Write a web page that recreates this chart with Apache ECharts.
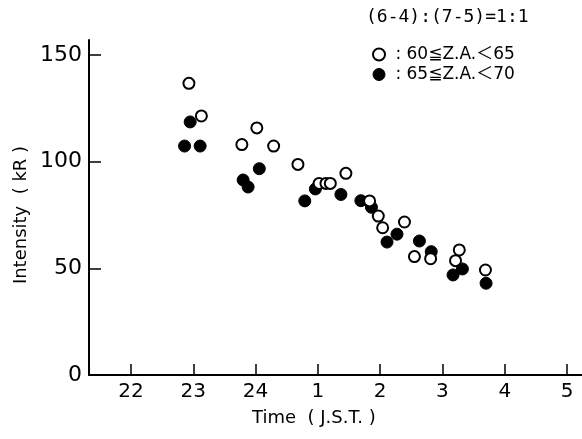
<!DOCTYPE html>
<html>
<head>
<meta charset="utf-8">
<script src="https://cdn.jsdelivr.net/npm/echarts@6/dist/echarts.min.js"></script>
<style>html,body{margin:0;padding:0;background:#fff}#c{width:582px;height:439px}</style>
</head>
<body>
<div id="c"></div>
<script>
// Time in hours (22..29 where 25 = 1 o'clock next day), intensity in kR
const openTime = [22.93, 23.13, 23.78, 24.02, 24.29, 24.68, 25.02, 25.13, 25.20, 25.45, 25.83, 25.97, 26.04, 26.39, 26.55, 26.81, 27.27, 27.21, 27.69];
const openIntensity = [136.7, 121.4, 108.0, 115.8, 107.3, 98.7, 89.8, 89.8, 89.8, 94.5, 81.6, 74.5, 69.0, 71.7, 55.5, 54.5, 58.6, 53.6, 49.2];
const filledTime = [22.95, 22.86, 23.11, 23.80, 23.88, 24.06, 24.79, 24.96, 25.37, 25.69, 25.86, 26.11, 26.27, 26.63, 26.82, 27.17, 27.32, 27.70];
const filledIntensity = [118.6, 107.3, 107.3, 91.4, 88.1, 96.7, 81.6, 87.2, 84.6, 81.7, 78.6, 62.3, 66.0, 62.8, 57.8, 46.9, 49.7, 43.0];
const xTicks = [22, 23, 24, 25, 26, 27, 28, 29];
const xTickLabels = ['22', '23', '24', '1', '2', '3', '4', '5'];
const yTicks = [0, 50, 100, 150];
const seriesNames = [' : 60≦Z.A.＜65', ' : 65≦Z.A.＜70'];
const ratioText = '(6-4):(7-5)=1:1';

const toPairs = (xs, ys) => xs.map((x, i) => [x, ys[i]]);
const mixFont = "'DejaVu Sans', 'Noto Sans CJK JP'";

const chart = echarts.init(document.getElementById('c'), null, {renderer: 'canvas'});
chart.setOption({
  backgroundColor: '#fff',
  animation: false,
  title: {
    text: ratioText,
    left: 366, top: 8, padding: 0,
    textStyle: {fontFamily: 'DejaVu Sans Mono', fontSize: 18, fontWeight: 'normal', color: '#000'}
  },
  legend: {
    orient: 'vertical',
    left: 372, top: 46, padding: 0,
    itemWidth: 12, itemHeight: 12, itemGap: 3,
    icon: 'circle',
    data: [seriesNames[0], seriesNames[1]],
    textStyle: {fontFamily: mixFont, fontSize: 17, color: '#000'},
    itemStyle: {borderWidth: 'inherit'}
  },
  grid: {left: 89, right: 0, top: 40, bottom: 64, containLabel: false},
  xAxis: {
    type: 'value', min: 21.326, max: 29.24,
    axisLine: {show: true, lineStyle: {color: '#000', width: 2}},
    axisTick: {show: true, inside: true, length: 11, customValues: xTicks, lineStyle: {color: '#000', width: 1.5}},
    axisLabel: {
      customValues: xTicks, margin: 7,
      fontFamily: 'DejaVu Sans', fontSize: 20, color: '#000',
      formatter: v => xTickLabels[xTicks.indexOf(Math.round(v))]
    },
    splitLine: {show: false}
  },
  yAxis: {
    type: 'value', min: 0, max: 157,
    axisLine: {show: true, lineStyle: {color: '#000', width: 2}},
    axisTick: {show: true, inside: true, length: 12, customValues: yTicks, lineStyle: {color: '#000', width: 1.5}},
    axisLabel: {customValues: yTicks, margin: 7, fontFamily: 'DejaVu Sans', fontSize: 22, color: '#000'},
    splitLine: {show: false}
  },
  graphic: [
    {type: 'text', left: 252, top: 409, style: {
      text: 'Time  ( J.S.T. )', fontFamily: 'DejaVu Sans', fontSize: 18, fill: '#000'
    }},
    {type: 'text', x: 21, y: 215, rotation: Math.PI / 2, style: {
      text: 'Intensity  ( kR )', fontFamily: 'DejaVu Sans', fontSize: 18, fill: '#000', align: 'center', verticalAlign: 'middle'
    }}
  ],
  series: [
    {
      name: seriesNames[1], type: 'scatter', symbol: 'circle', symbolSize: 12, z: 2,
      itemStyle: {color: '#000', borderColor: '#000', borderWidth: 1, opacity: 1},
      data: toPairs(filledTime, filledIntensity)
    },
    {
      name: seriesNames[0], type: 'scatter', symbol: 'circle', symbolSize: 11, z: 3,
      itemStyle: {color: '#fff', borderColor: '#000', borderWidth: 2, opacity: 1},
      data: toPairs(openTime, openIntensity)
    }
  ]
});
</script>
</body>
</html>
